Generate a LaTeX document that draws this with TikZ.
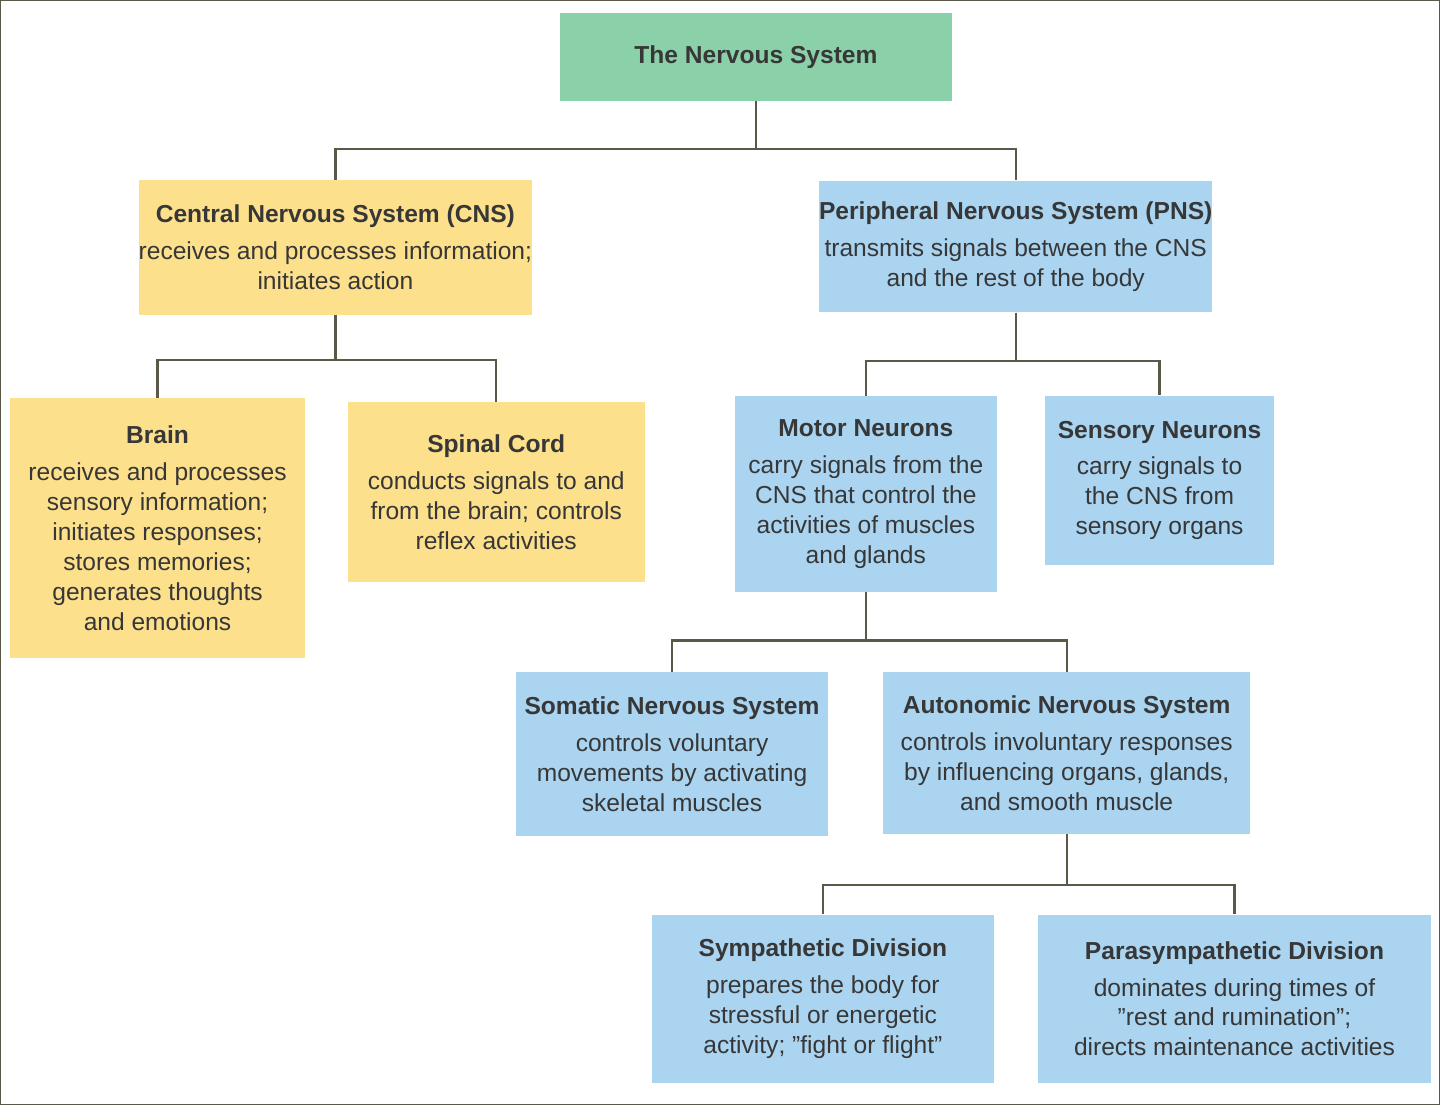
\documentclass[tikz,border=0pt]{standalone}
\usepackage{fontspec}
\setmainfont{Liberation Sans}
\definecolor{topgreen}{RGB}{138,208,168}
\definecolor{cnsyellow}{RGB}{252,224,140}
\definecolor{pnsblue}{RGB}{170,212,240}
\definecolor{linkgray}{RGB}{90,88,70}
\definecolor{txtgray}{RGB}{55,55,55}
\tikzset{
  box/.style={inner sep=0pt, align=center, text=txtgray, font=\fontsize{14}{17}\selectfont},
  cnsbox/.style={box, fill=cnsyellow},
  pnsbox/.style={box, fill=pnsblue},
  link/.style={draw=linkgray, line width=1.3pt}
}
\newcommand{\ttl}[1]{\textbf{#1}\\[4pt]}
\begin{document}
\begin{tikzpicture}[x=0.02cm, y=-0.02cm]
\draw[draw=linkgray, line width=0.8pt, fill=white] (0,0) rectangle (1440,1105);
\node[box, fill=topgreen, minimum width=7.86cm, minimum height=1.76cm] (nervous) at (756,56) {\textbf{The Nervous System}};
\node[cnsbox, minimum width=7.88cm, minimum height=2.7cm] (cns) at (335,247) {\ttl{Central Nervous System (CNS)}receives and processes information;\\initiates action};
\node[pnsbox, minimum width=7.86cm, minimum height=2.64cm] (pns) at (1016,246) {\ttl{Peripheral Nervous System (PNS)}transmits signals between the CNS\\and the rest of the body};
\node[cnsbox, minimum width=5.9cm, minimum height=5.2cm] (brain) at (157,528) {\ttl{Brain}receives and processes\\sensory information;\\initiates responses;\\stores memories;\\generates thoughts\\and emotions};
\node[cnsbox, minimum width=5.94cm, minimum height=3.6cm] (spinal) at (496,492) {\ttl{Spinal Cord}conducts signals to and\\from the brain; controls\\reflex activities};
\node[pnsbox, minimum width=5.24cm, minimum height=3.92cm] (motor) at (866,494) {\ttl{Motor Neurons}carry signals from the\\CNS that control the\\activities of muscles\\and glands};
\node[pnsbox, minimum width=4.6cm, minimum height=3.38cm] (sensory) at (1160,480) {\ttl{Sensory Neurons}carry signals to\\the CNS from\\sensory organs};
\node[pnsbox, minimum width=6.26cm, minimum height=3.28cm] (somatic) at (672,754) {\ttl{Somatic Nervous System}controls voluntary\\movements by activating\\skeletal muscles};
\node[pnsbox, minimum width=7.34cm, minimum height=3.24cm] (autonomic) at (1067,753) {\ttl{Autonomic Nervous System}controls involuntary responses\\by influencing organs, glands,\\and smooth muscle};
\node[pnsbox, minimum width=6.84cm, minimum height=3.36cm] (sympathetic) at (823,999) {\ttl{Sympathetic Division}prepares the body for\\stressful or energetic\\activity; "fight or flight"};
\node[pnsbox, minimum width=7.88cm, minimum height=3.36cm] (parasym) at (1235,999) {\ttl{Parasympathetic Division}dominates during times of\\"rest and rumination";\\directs maintenance activities};
% connectors
\draw[link] (nervous.south) -- ++(0,48) -| (cns.north);
\draw[link] (nervous.south) -- ++(0,48) -| (pns.north);
\draw[link] (cns.south) -- ++(0,45) -| (brain.north);
\draw[link] (cns.south) -- ++(0,45) -| (spinal.north);
\draw[link] (pns.south) -- ++(0,48) -| (motor.north);
\draw[link] (pns.south) -- ++(0,48) -| (sensory.north);
\draw[link] (motor.south) -- ++(0,48) -| (somatic.north);
\draw[link] (motor.south) -- ++(0,48) -| (autonomic.north);
\draw[link] (autonomic.south) -- ++(0,51) -| (sympathetic.north);
\draw[link] (autonomic.south) -- ++(0,51) -| (parasym.north);
\end{tikzpicture}
\end{document}
